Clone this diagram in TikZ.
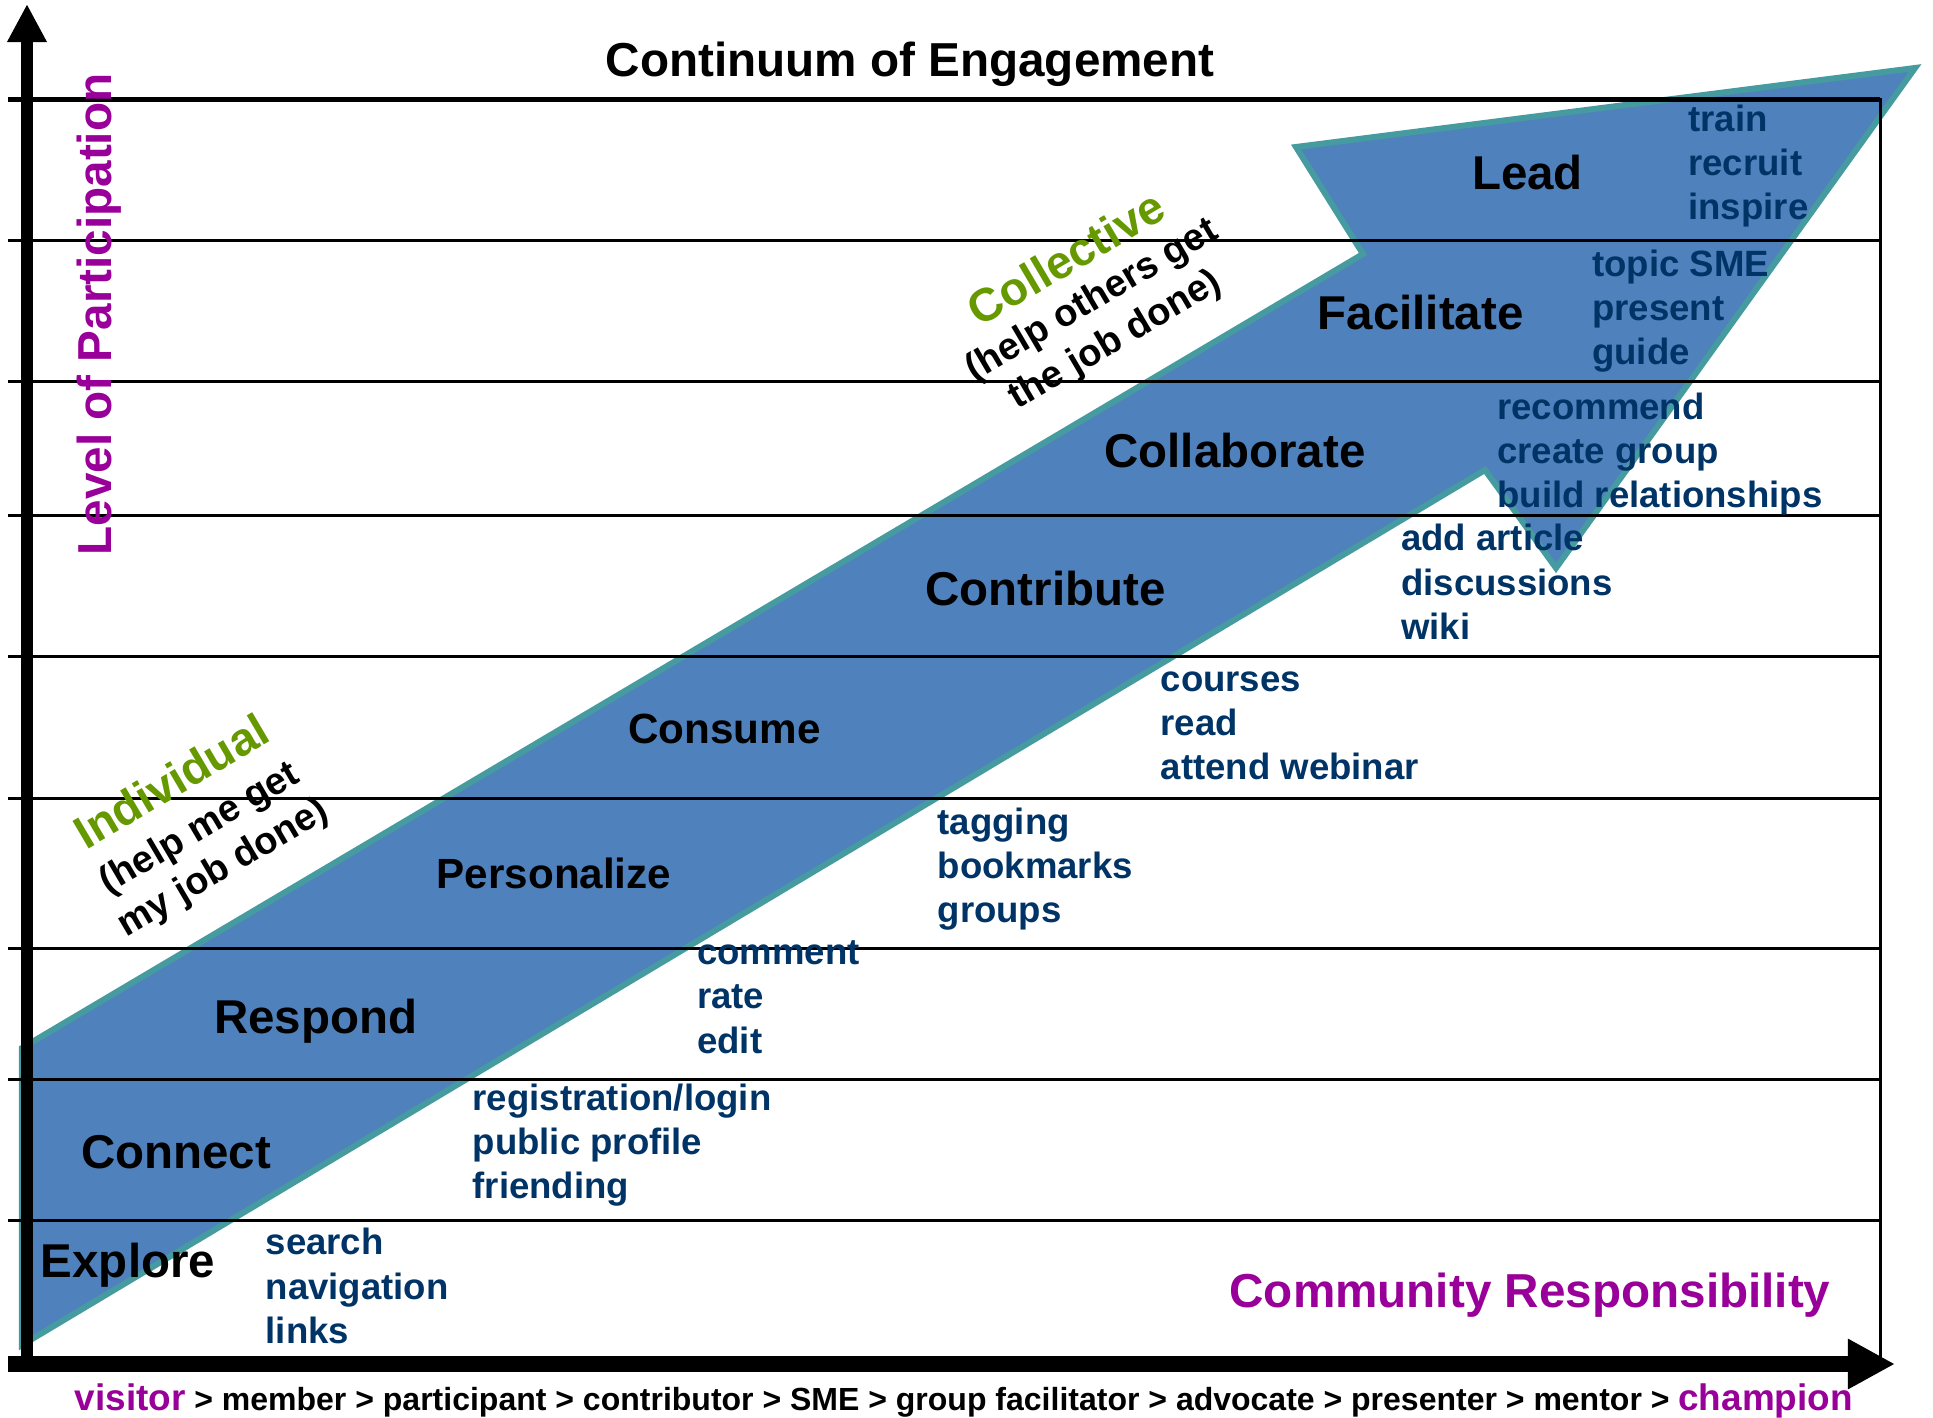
\documentclass[tikz,border=0pt]{standalone}
\usepackage{fontspec}
\setmainfont{Liberation Sans}
\usepackage{xcolor}
\usetikzlibrary{arrows.meta}
\definecolor{arrowblue}{RGB}{79,129,189}
\definecolor{arrowteal}{RGB}{70,155,160}
\definecolor{actblue}{RGB}{0,51,102}
\definecolor{labpurple}{RGB}{153,0,153}
\definecolor{labgreen}{RGB}{102,153,0}

\begin{document}
\begin{tikzpicture}[
  x=0.01cm, y=-0.01cm,
  every node/.style={inner sep=0pt},
  stage/.style={font=\fontsize{13.5}{16}\selectfont\bfseries, anchor=base},
  act/.style={font=\fontsize{10.4}{12.6}\selectfont\bfseries, text=actblue, align=left, anchor=west},
  mode/.style={font=\fontsize{13.2}{16}\selectfont\bfseries, text=labgreen, rotate=30.5},
  modenote/.style={font=\fontsize{10.8}{13.1}\selectfont\bfseries, align=center, rotate=30.5},
  axlabel/.style={font=\fontsize{13.55}{16}\selectfont\bfseries, text=labpurple},
  rowline/.style={line width=0.03cm},
  bigarrow/.style={line width=0.06cm, draw=arrowteal, fill=arrowblue, line join=miter}
]
  \useasboundingbox (0,0) rectangle (1933,1418);

  % the big arrow
  \draw[bigarrow] (22,1345) -- (22,1048) -- (1363,254) -- (1296,147) -- (1915,68)
    -- (1556,568) -- (1485,470) -- cycle;

  % rows
  \foreach \yy in {240,381,515,656,798,948,1079,1220}
    \draw[rowline] (8,\yy) -- (1880,\yy);
  \draw[line width=0.05cm] (8,99.5) -- (1880,99.5);
  \draw[rowline] (1880,98) -- (1880,1364);

  % axes
  \draw[line width=0.12cm, -{Triangle[length=0.38cm, width=0.37cm]}] (27,1364) -- (27,4);
  \draw[line width=0.16cm, -{Triangle[length=0.47cm, width=0.47cm]}] (8,1364) -- (1895,1364);

  \node[font=\fontsize{13.55}{16}\selectfont\bfseries, anchor=base] (title) at (910,76) {Continuum of Engagement};
  \node[axlabel, rotate=90, anchor=base] (vlabel) at (111.5,314.5) {Level of Participation};
  \node[axlabel, anchor=base] (hlabel) at (1530,1307) {Community Responsibility};
  \node[font=\fontsize{9.1}{11}\selectfont\bfseries, anchor=base west] (roles) at (74,1410)
    {\textcolor{labpurple}{\fontsize{10.5}{12}\selectfont visitor} > member > participant > contributor > SME > group facilitator > advocate > presenter > mentor > \textcolor{labpurple}{\fontsize{10.5}{12}\selectfont champion}};

  % stages
  \node[stage] (lead) at (1527.5,189) {Lead};
  \node[stage] (facilitate) at (1420.5,329) {Facilitate};
  \node[stage] (collaborate) at (1235,467) {Collaborate};
  \node[stage] (contribute) at (1045.5,605) {Contribute};
  \node[stage, font=\fontsize{12}{14}\selectfont\bfseries] (consume) at (724.5,743) {Consume};
  \node[stage, font=\fontsize{12}{14}\selectfont\bfseries] (personalize) at (554,888) {Personalize};
  \node[stage] (respond) at (315.6,1033) {Respond};
  \node[stage] (connect) at (176,1168) {Connect};
  \node[stage] (explore) at (128,1277) {Explore};

  % activities
  \node[act] (exploreacts) at (265,1286) {search\\navigation\\links};
  \node[act] (connectacts) at (472,1145) {registration/login\\public profile\\friending};
  \node[act] (respondacts) at (696.5,997) {comment\\rate\\edit};
  \node[act] (personalizeacts) at (937,869) {tagging\\bookmarks\\groups};
  \node[act] (consumeacts) at (1160,726) {courses\\read\\attend webinar};
  \node[act] (contributeacts) at (1400.5,582) {add article\\discussions\\wiki};
  \node[act] (collaborateacts) at (1496.6,454) {recommend\\create group\\build relationships};
  \node[act] (facilitateacts) at (1591.5,311) {topic SME\\present\\guide};
  \node[act] (leadacts) at (1687.7,166) {train\\recruit\\inspire};

  % individual / collective
  \node[mode] (individual) at (171,781) {Individual};
  \node[modenote] (individualnote) at (212,849) {(help me get\\my job done)};
  \node[mode] (collective) at (1066,258) {Collective};
  \node[modenote] (collectivenote) at (1104,321) {(help others get\\the job done)};

\end{tikzpicture}
\end{document}
